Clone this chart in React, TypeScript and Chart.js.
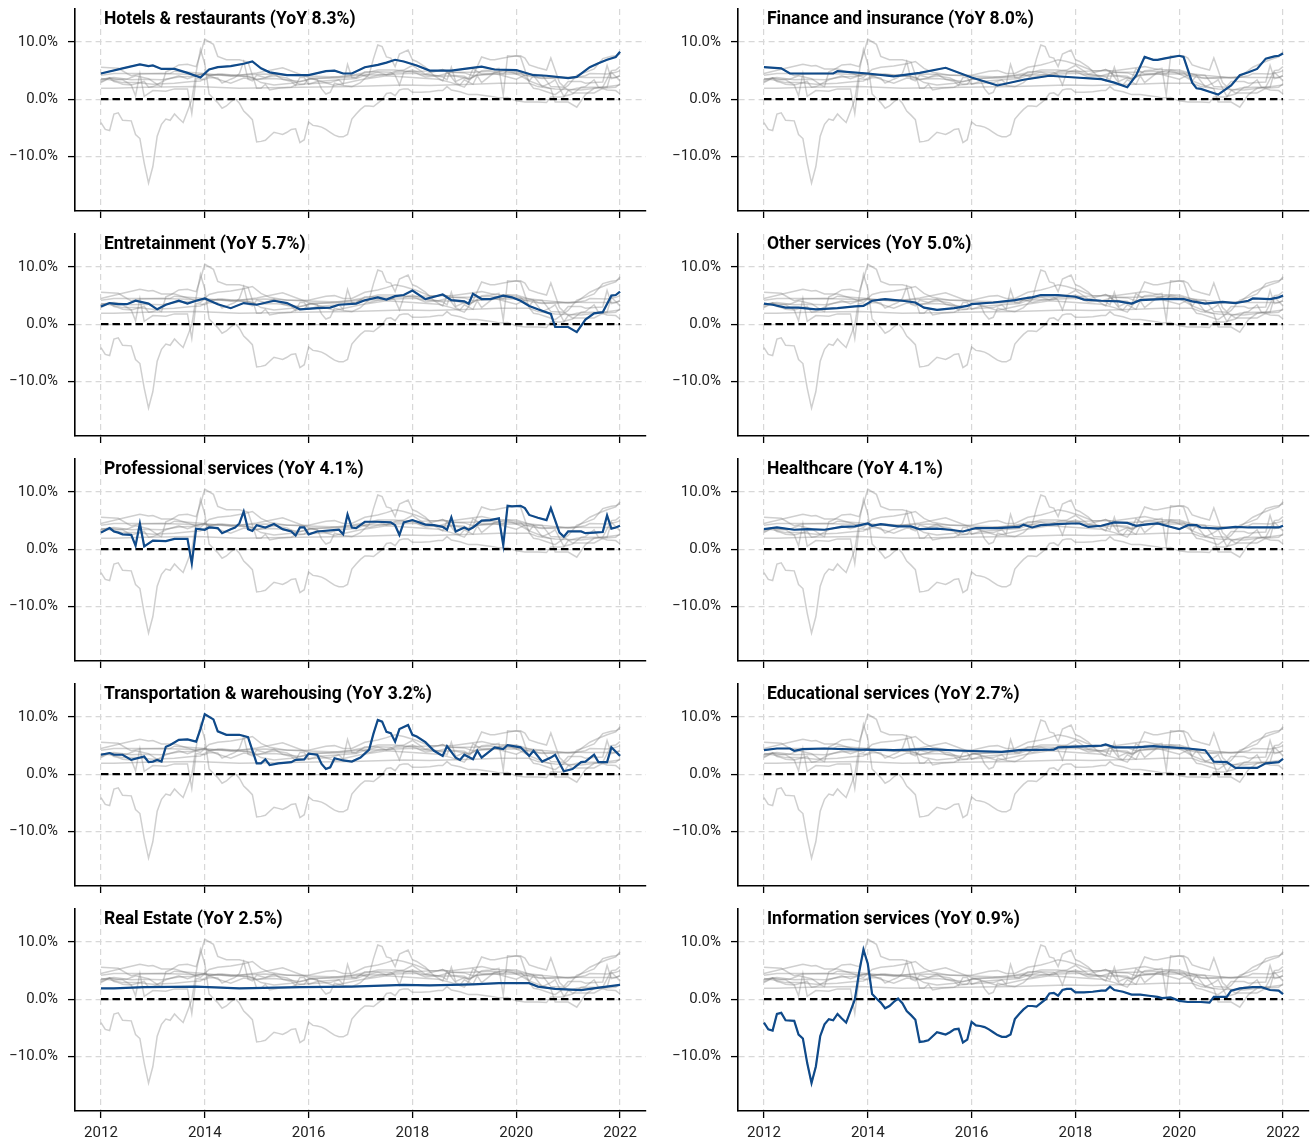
import React, { useEffect, useRef } from "react";
import { Chart, registerables } from "chart.js";

Chart.register(...registerables);

// ---- data: months since Jan 2012, and YoY growth (%) ----
const START_YEAR = 2012;

const hotelsMonths = [0, 5, 9, 11, 12, 14, 17, 20, 23, 25, 27, 30, 33, 35, 37, 39, 43, 48, 52, 54, 56, 58, 61, 64, 66, 68, 70, 73, 76, 81, 84, 88, 91, 96, 100, 103, 108, 110, 113, 115, 117, 119, 120];
const hotelsValues = [4.5, 5.4, 6.1, 5.8, 5.9, 5.3, 5.3, 4.6, 3.8, 5.2, 5.6, 5.8, 6.2, 6.6, 5.4, 4.7, 4.2, 4.2, 4.9, 5.0, 4.5, 4.5, 5.6, 6.0, 6.4, 6.9, 6.6, 5.9, 5.0, 5.0, 5.3, 5.7, 5.2, 5.1, 4.2, 4.1, 3.7, 3.9, 5.6, 6.3, 6.9, 7.4, 8.3];

const financeMonths = [0, 4, 6, 16, 17, 24, 30, 36, 42, 48, 54, 60, 66, 72, 78, 81, 84, 86, 88, 90, 91, 93, 96, 97, 99, 100, 101, 103, 105, 108, 110, 112, 114, 116, 118, 119, 120];
const financeValues = [5.6, 5.4, 4.5, 4.5, 4.9, 4.5, 4.0, 4.6, 5.5, 3.8, 2.4, 3.4, 4.1, 3.8, 3.5, 2.9, 2.1, 4.1, 7.4, 6.9, 6.9, 7.2, 7.6, 7.4, 2.9, 1.9, 1.8, 1.3, 0.8, 2.4, 4.2, 4.7, 5.3, 7.1, 7.5, 7.6, 8.0];

const entertainmentMonths = [0, 2, 4, 6, 8, 11, 13, 15, 18, 20, 22, 24, 27, 30, 33, 36, 40, 43, 46, 50, 53, 55, 59, 61, 64, 66, 68, 70, 72, 75, 79, 81, 84, 85, 86, 88, 90, 93, 95, 97, 99, 101, 104, 105, 108, 110, 112, 114, 116, 118, 119, 120];
const entertainmentValues = [3.1, 3.7, 3.5, 3.5, 4.1, 3.6, 2.6, 3.4, 4.1, 3.6, 4.1, 4.5, 3.5, 2.8, 3.7, 3.4, 4.1, 3.7, 2.6, 2.8, 2.9, 3.4, 3.6, 4.2, 4.7, 4.3, 4.9, 5.1, 5.9, 4.4, 5.2, 4.2, 4.0, 3.6, 5.3, 4.4, 4.4, 5.0, 4.7, 4.1, 3.2, 2.6, 1.8, -0.5, -0.5, -1.4, 0.8, 1.9, 2.1, 5.0, 5.1, 5.7];

const otherMonths = [0, 2, 5, 8, 12, 17, 21, 23, 25, 28, 32, 35, 37, 40, 44, 47, 48, 53, 58, 60, 62, 64, 68, 72, 74, 78, 82, 85, 87, 92, 97, 99, 102, 106, 109, 112, 113, 117, 119, 120];
const otherValues = [3.6, 3.4, 2.9, 2.9, 2.6, 2.8, 3.1, 3.2, 4.1, 4.4, 4.1, 3.8, 2.9, 2.5, 2.8, 3.2, 3.5, 3.8, 4.2, 4.5, 4.7, 5.1, 5.1, 4.8, 4.3, 4.1, 4.0, 3.6, 4.2, 4.4, 4.4, 4.0, 3.6, 3.9, 3.7, 4.1, 4.5, 4.4, 4.7, 5.0];

const professionalMonths = [0, 2, 3, 4, 5, 7, 8, 9, 10, 12, 15, 17, 20, 21, 22, 24, 25, 27, 28, 30, 31, 32, 33, 34, 35, 36, 38, 40, 42, 44, 45, 46, 47, 48, 50, 55, 56, 57, 58, 59, 61, 64, 67, 68, 69, 70, 72, 75, 77, 79, 80, 81, 82, 84, 85, 86, 88, 90, 92, 93, 94, 95, 97, 98, 99, 101, 103, 104, 106, 107, 108, 111, 112, 114, 116, 117, 118, 119, 120];
const professionalValues = [2.9, 3.7, 3.1, 2.9, 2.6, 2.5, 0.6, 4.5, 0.5, 1.5, 1.4, 1.8, 1.8, -2.5, 3.6, 3.4, 3.8, 3.7, 2.8, 3.5, 3.8, 4.5, 6.6, 3.5, 3.2, 4.2, 3.8, 4.4, 3.5, 3.1, 2.4, 3.8, 3.8, 2.6, 3.1, 3.4, 2.6, 6.1, 3.8, 3.7, 4.8, 4.8, 4.7, 4.2, 2.5, 4.7, 5.1, 4.3, 4.2, 3.9, 3.4, 5.6, 3.1, 3.8, 3.4, 3.8, 5.0, 5.1, 5.4, 0.7, 7.6, 7.5, 7.6, 7.2, 6.0, 5.5, 5.1, 7.2, 2.9, 2.2, 3.1, 3.1, 2.8, 2.9, 3.0, 5.9, 3.6, 3.8, 4.1];

const healthcareMonths = [0, 3, 7, 10, 14, 18, 21, 24, 25, 27, 31, 34, 36, 40, 43, 46, 49, 54, 59, 60, 62, 64, 68, 71, 73, 75, 78, 81, 84, 86, 89, 91, 93, 96, 98, 100, 101, 105, 109, 112, 116, 119, 120];
const healthcareValues = [3.5, 3.8, 3.4, 3.5, 3.4, 3.9, 4.0, 4.5, 4.1, 4.4, 4.0, 4.0, 3.5, 3.6, 3.4, 3.1, 3.7, 3.7, 3.9, 4.3, 3.8, 4.2, 4.4, 4.5, 4.5, 3.9, 4.1, 4.7, 4.6, 4.1, 4.4, 4.5, 4.1, 3.5, 4.2, 4.2, 3.8, 3.6, 3.9, 3.8, 3.8, 3.8, 4.1];

const transportMonths = [0, 2, 3, 5, 7, 10, 11, 12, 13, 14, 15, 16, 18, 20, 22, 23, 24, 26, 27, 29, 32, 34, 36, 37, 38, 39, 41, 44, 45, 47, 48, 50, 51, 52, 53, 54, 56, 58, 60, 62, 63, 64, 65, 66, 67, 68, 69, 71, 72, 73, 75, 77, 79, 80, 82, 83, 84, 86, 87, 88, 91, 93, 94, 97, 99, 100, 102, 104, 105, 107, 109, 111, 112, 114, 115, 117, 118, 120];
const transportValues = [3.4, 3.7, 3.4, 3.4, 2.5, 3.1, 2.1, 2.2, 2.5, 2.2, 4.8, 5.1, 6.0, 6.1, 5.7, 7.9, 10.5, 9.6, 7.5, 6.9, 6.9, 6.5, 1.9, 1.9, 2.6, 1.6, 1.9, 2.1, 2.5, 2.6, 3.6, 3.4, 1.8, 0.9, 1.2, 2.8, 2.4, 2.2, 2.9, 4.3, 7.1, 9.5, 9.2, 7.4, 7.2, 5.7, 7.9, 8.6, 6.9, 6.6, 5.6, 4.1, 3.2, 4.9, 2.9, 2.5, 3.4, 2.6, 4.1, 2.9, 4.7, 4.4, 5.1, 4.7, 3.2, 4.1, 2.2, 2.9, 3.4, 0.5, 0.9, 2.1, 2.2, 3.4, 2.1, 2.1, 4.7, 3.2];

const educationMonths = [0, 3, 6, 7, 9, 14, 22, 30, 38, 46, 55, 59, 67, 68, 78, 79, 81, 86, 90, 94, 98, 102, 104, 107, 109, 114, 116, 119, 120];
const educationValues = [4.2, 4.5, 4.5, 4.1, 4.4, 4.5, 4.3, 4.2, 4.4, 4.1, 3.9, 4.2, 4.3, 4.7, 5.0, 5.2, 4.7, 4.7, 4.9, 4.7, 4.5, 4.2, 2.2, 2.1, 1.1, 1.1, 1.9, 2.1, 2.7];

const realEstateMonths = [0, 3, 10, 22, 32, 46, 58, 70, 76, 86, 92, 99, 101, 105, 111, 116, 120];
const realEstateValues = [1.9, 1.9, 2.1, 2.2, 1.9, 2.1, 2.2, 2.5, 2.4, 2.6, 2.8, 2.8, 2.2, 1.8, 1.6, 2.1, 2.5];

const informationMonths = [0, 1, 2, 3, 4, 5, 7, 8, 9, 10, 11, 12, 13, 14, 15, 16, 17, 18, 19, 20, 21, 22, 23, 24, 25, 26, 27, 28, 29, 30, 31, 32, 33, 34, 35, 36, 37, 38, 39, 40, 41, 42, 43, 44, 45, 46, 47, 48, 49, 50, 51, 52, 53, 54, 55, 56, 57, 58, 59, 60, 61, 62, 63, 64, 65, 66, 67, 68, 69, 70, 71, 72, 74, 76, 78, 79, 80, 81, 83, 85, 87, 89, 91, 92, 94, 96, 98, 101, 103, 104, 107, 108, 110, 113, 115, 117, 119, 120];
const informationValues = [-4.1, -5.3, -5.5, -2.6, -2.4, -3.7, -3.8, -6.2, -6.9, -11.2, -14.7, -11.8, -6.5, -4.4, -3.5, -3.7, -2.6, -3.4, -4.1, -2.1, -0.1, 4.7, 8.7, 6.2, 0.9, 0.1, -0.6, -1.6, -1.2, -0.5, 0.1, -0.7, -2.1, -2.8, -3.6, -7.5, -7.4, -7.2, -6.5, -5.8, -6.0, -6.2, -5.8, -5.3, -5.2, -7.6, -7.1, -4.0, -4.6, -4.7, -4.9, -5.3, -5.8, -6.3, -6.6, -6.6, -6.2, -3.5, -2.6, -1.8, -1.2, -1.2, -1.3, -0.7, -0.1, 1.0, 1.1, 0.6, 1.6, 1.8, 1.8, 1.2, 1.2, 1.3, 1.5, 1.5, 2.2, 1.6, 1.3, 0.8, 0.8, 0.6, 0.4, 0.2, 0.3, -0.3, -0.5, -0.5, -0.6, 0.4, 0.4, 1.5, 1.9, 2.1, 2.1, 1.6, 1.5, 0.9];

const seriesNames = [
  "Hotels & restaurants",
  "Finance and insurance",
  "Entretainment",
  "Other services",
  "Professional services",
  "Healthcare",
  "Transportation & warehousing",
  "Educational services",
  "Real Estate",
  "Information services",
];
const seriesMonths = [hotelsMonths, financeMonths, entertainmentMonths, otherMonths, professionalMonths, healthcareMonths, transportMonths, educationMonths, realEstateMonths, informationMonths];
const seriesValues = [hotelsValues, financeValues, entertainmentValues, otherValues, professionalValues, healthcareValues, transportValues, educationValues, realEstateValues, informationValues];

const xTickYears = [2012, 2014, 2016, 2018, 2020, 2022];
const yTickValues = [-10, 0, 10];

// ---- styling ----
const BLUE = "#0f4a8a";
const GREY = "rgba(128,128,128,0.38)";
const GRID = "#d8d8d8";
const FONT = "Roboto";

function toPoints(i: number) {
  return seriesMonths[i].map((m, k) => ({ x: START_YEAR + m / 12, y: seriesValues[i][k] }));
}

function Panel({ index }: { index: number }) {
  const ref = useRef<HTMLCanvasElement | null>(null);
  const col = index % 2;
  const row = Math.floor(index / 2);
  const isBottom = row === 4;
  const width = 656;
  const height = isBottom ? 241 : 225;

  useEffect(() => {
    if (!ref.current) return;
    const values = seriesValues[index];
    const title = `${seriesNames[index]} (YoY ${values[values.length - 1].toFixed(1)}%)`;
    const firstMonth = Math.min(...seriesMonths.map((m) => m[0]));
    const lastMonth = Math.max(...seriesMonths.map((m) => m[m.length - 1]));

    const datasets: any[] = [
      {
        data: toPoints(index),
        borderColor: BLUE,
        borderWidth: 2.2,
        order: 0,
      },
      {
        data: [
          { x: START_YEAR + firstMonth / 12, y: 0 },
          { x: START_YEAR + lastMonth / 12, y: 0 },
        ],
        borderColor: "#000",
        borderWidth: 2.2,
        borderDash: [7.5, 4],
        order: 1,
      },
    ];
    for (let j = 0; j < seriesNames.length; j++) {
      datasets.push({
        data: toPoints(j),
        borderColor: GREY,
        borderWidth: 1.5,
        order: 2,
      });
    }

    const titlePlugin = {
      id: "panelTitle",
      afterDraw(chart: any) {
        const { ctx, chartArea } = chart;
        ctx.save();
        ctx.font = `bold 17.5px ${FONT}`;
        ctx.fillStyle = "#000";
        ctx.textAlign = "left";
        ctx.textBaseline = "alphabetic";
        ctx.fillText(title, chartArea.left + 29, chartArea.top + 15);
        ctx.restore();
      },
    };

    const chart = new Chart(ref.current, {
      type: "line",
      data: { datasets },
      options: {
        animation: false,
        responsive: false,
        events: [],
        layout: { padding: { left: 0, right: col === 0 ? 10 : 3, top: 9, bottom: 0 } },
        elements: { point: { radius: 0 }, line: { tension: 0 } },
        plugins: { legend: { display: false }, tooltip: { enabled: false }, title: { display: false } },
        scales: {
          x: {
            type: "linear",
            min: 2011.5,
            max: 2022.5,
            bounds: "data",
            afterBuildTicks: (s: any) => {
              s.ticks = xTickYears.map((v) => ({ value: v }));
            },
            afterFit: (s: any) => {
              s.height = isBottom ? 30 : 14;
              s.paddingLeft = 0;
              s.paddingRight = 0;
            },
            ticks: {
              display: isBottom,
              autoSkip: false,
              maxRotation: 0,
              padding: 6,
              color: "#222",
              font: { family: FONT, size: 15 },
              callback: (v: any) => String(v),
            },
            grid: {
              color: GRID,
              lineWidth: 1.2,
              drawTicks: true,
              tickLength: 7,
              tickColor: "#000",
              tickWidth: 1.3,
            },
            border: { display: true, color: "#000", width: 1.6, dash: [6, 4] },
          },
          y: {
            type: "linear",
            min: -19.6,
            max: 15.8,
            bounds: "data",
            afterBuildTicks: (s: any) => {
              s.ticks = yTickValues.map((v) => ({ value: v }));
            },
            afterFit: (s: any) => {
              s.width = col === 0 ? 75 : 82;
              s.paddingTop = 0;
              s.paddingBottom = 0;
            },
            ticks: {
              padding: 10,
              color: "#222",
              font: { family: FONT, size: 15 },
              callback: (v: any) => (v < 0 ? "\u2212" : "") + Math.abs(v).toFixed(1) + "%",
            },
            grid: {
              color: GRID,
              lineWidth: 1.2,
              drawTicks: true,
              tickLength: 7,
              tickColor: "#000",
              tickWidth: 1.3,
            },
            border: { display: true, color: "#000", width: 1.6, dash: [6, 4] },
          },
        },
      } as any,
      plugins: [titlePlugin],
    });
    return () => chart.destroy();
  }, [index]);

  return (
    <canvas
      ref={ref}
      width={width}
      height={height}
      style={{ position: "absolute", left: col * 656, top: row * 225 }}
    />
  );
}

export default function App() {
  return (
    <div style={{ position: "absolute", left: 0, top: 0, width: 1312, height: 1141, background: "#fff" }}>
      {seriesNames.map((_, i) => (
        <Panel key={i} index={i} />
      ))}
    </div>
  );
}
